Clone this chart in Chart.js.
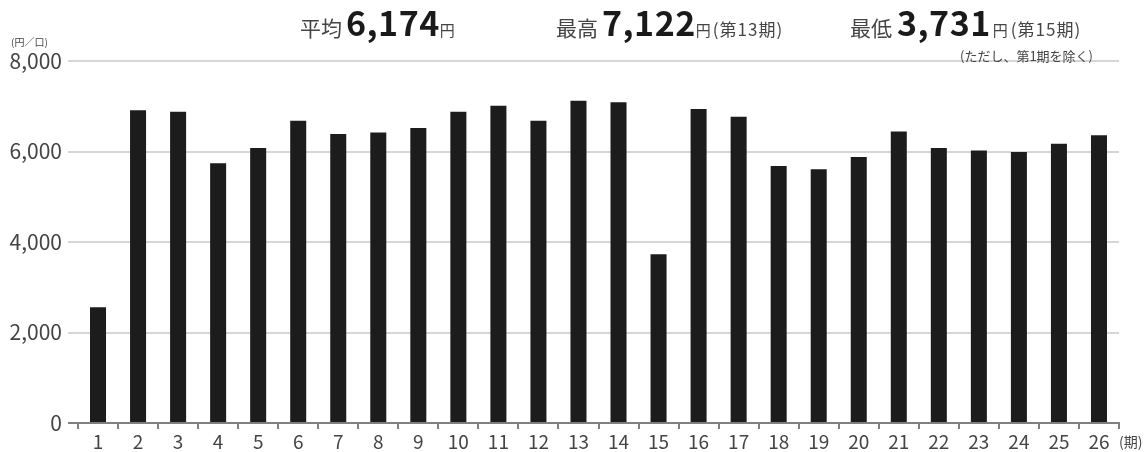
<!DOCTYPE html>
<html lang="ja">
<head>
<meta charset="utf-8">
<script src="https://cdn.jsdelivr.net/npm/chart.js@4"></script>
<style>
  html, body { margin: 0; padding: 0; background: #fff; }
  #wrap { width: 1147px; height: 452px; position: relative; }
</style>
</head>
<body>
<div id="wrap"><canvas id="chart" width="1147" height="452"></canvas></div>
<script>
/* ---------- data ---------- */
const periods = ["1","2","3","4","5","6","7","8","9","10","11","12","13",
                 "14","15","16","17","18","19","20","21","22","23","24","25","26"];
const amounts = [2560, 6910, 6880, 5740, 6075, 6680, 6385, 6420, 6520, 6880, 7010, 6680, 7122,
                 7090, 3731, 6940, 6770, 5680, 5610, 5880, 6440, 6080, 6020, 5990, 6170, 6360];
const yTickValues = [0, 2000, 4000, 6000, 8000];

// summary figures shown above the chart
const avgAmount = 6174;
const maxAmount = 7122, maxPeriod = 13;
const minAmount = 3731, minPeriod = 15;

const JP = '"Noto Sans CJK JP", "Noto Sans", sans-serif';
const fmt = v => v.toLocaleString("en-US");

/* ---------- header / unit labels ---------- */
function drawRun(ctx, x, y, parts) {
  parts.forEach(p => {
    ctx.font = `${p.bold ? "bold " : ""}${p.size}px ${JP}`;
    ctx.letterSpacing = (p.spacing || 0) + "px";
    ctx.fillStyle = p.color || "#444";
    ctx.fillText(p.text, x, y);
    x += ctx.measureText(p.text).width + (p.gap || 0);
  });
  ctx.letterSpacing = "0px";
}

const labelsPlugin = {
  id: "labels",
  afterDraw(chart) {
    const ctx = chart.ctx;
    ctx.save();
    ctx.textAlign = "left";
    ctx.textBaseline = "alphabetic";

    drawRun(ctx, 300, 36, [
      { text: "平均", size: 21, gap: 4 },
      { text: fmt(avgAmount), size: 34, bold: true, spacing: 0.5, color: "#1a1a1a" },
      { text: "円", size: 15 }
    ]);
    drawRun(ctx, 556, 36, [
      { text: "最高", size: 21, gap: 4 },
      { text: fmt(maxAmount), size: 34, bold: true, spacing: 0.5, color: "#1a1a1a" },
      { text: "円", size: 15, gap: 2 },
      { text: `(第${maxPeriod}期)`, size: 17, spacing: 1 }
    ]);
    drawRun(ctx, 850, 36, [
      { text: "最低", size: 21, gap: 5 },
      { text: fmt(minAmount), size: 34, bold: true, spacing: 0.5, color: "#1a1a1a", gap: 2 },
      { text: "円", size: 15, gap: 3 },
      { text: `(第${minPeriod}期)`, size: 17, spacing: 1 }
    ]);

    ctx.textAlign = "right";
    ctx.font = `13px ${JP}`;
    ctx.fillStyle = "#444";
    ctx.fillText("(ただし、第1期を除く)", 1093, 61);

    // unit of the y axis
    ctx.textAlign = "left";
    ctx.font = `10px ${JP}`;
    ctx.fillText("(円／口)", 11, 46);

    // unit of the x axis, after the last period
    ctx.textBaseline = "middle";
    ctx.font = `14px ${JP}`;
    ctx.fillText("(期)", 1119, 442);
    ctx.restore();
  }
};

/* ---------- chart ---------- */
new Chart(document.getElementById("chart"), {
  type: "bar",
  data: {
    labels: periods,
    datasets: [{
      data: amounts,
      backgroundColor: "#1c1c1c",
      barPercentage: 0.4,
      categoryPercentage: 1.0
    }]
  },
  options: {
    responsive: false,
    animation: false,
    layout: { padding: { top: 61, right: 28, left: 0, bottom: 0 } },
    plugins: { legend: { display: false }, tooltip: { enabled: false } },
    scales: {
      x: {
        offset: true,
        afterFit: s => { s.height = 29; },
        grid: {
          offset: true,
          drawOnChartArea: false,
          tickLength: 6,
          color: "#808080",
          lineWidth: 2
        },
        border: { display: true, color: "#808080", width: 2 },
        ticks: {
          autoSkip: false,
          maxRotation: 0,
          padding: 1,
          color: "#444",
          font: { family: JP, size: 19 }
        }
      },
      y: {
        min: 0,
        max: 8000,
        afterFit: s => { s.width = 78; },
        afterBuildTicks: s => { s.ticks = yTickValues.map(v => ({ value: v })); },
        border: { display: false },
        grid: {
          tickLength: 10,
          color: c => c.tick && c.tick.value === 0 ? "#808080" : "#d6d6d6",
          lineWidth: 2
        },
        ticks: {
          padding: 6,
          color: "#444",
          font: { family: JP, size: 21 },
          callback: v => fmt(v)
        }
      }
    }
  },
  plugins: [labelsPlugin]
});
</script>
</body>
</html>
